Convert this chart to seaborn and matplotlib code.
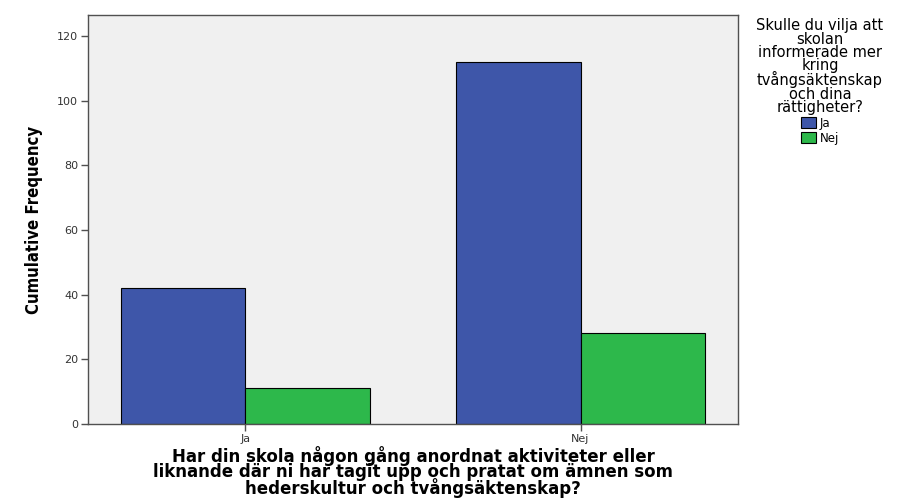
import pandas as pd
import seaborn as sns
import matplotlib.pyplot as plt

# data
activity_answers = ["Ja", "Nej"]          # x axis categories
inform_answers = ["Ja", "Nej"]            # legend / hue
freq_ja = [42, 11]                        # x = Ja: hue Ja, hue Nej
freq_nej = [112, 28]                      # x = Nej: hue Ja, hue Nej

x_title = ("Har din skola någon gång anordnat aktiviteter eller\n"
           "liknande där ni har tagit upp och pratat om ämnen som\n"
           "hederskultur och tvångsäktenskap?")
legend_title = ("Skulle du vilja att\nskolan\ninformerade mer\nkring\n"
                "tvångsäktenskap\noch dina\nrättigheter?")

rows = []
for x_cat, vals in zip(activity_answers, [freq_ja, freq_nej]):
    for h, v in zip(inform_answers, vals):
        rows.append({"activity": x_cat, "inform": h, "freq": v})
df = pd.DataFrame(rows)

sns.set_style("white")
plt.rcParams['font.family'] = ['DejaVu Sans']
plt.rcParams['text.color'] = 'black'
plt.rcParams['axes.labelcolor'] = 'black'

fig = plt.figure(figsize=(9.05, 4.98), dpi=100)
ax = fig.add_axes([88 / 905, 74 / 498, 650 / 905, 409 / 498])
ax.set_facecolor("#f0f0f0")

palette = {"Ja": "#3e56a9", "Nej": "#2db84b"}
sns.barplot(data=df, x="activity", y="freq", hue="inform", order=activity_answers,
            hue_order=inform_answers, palette=palette, width=0.744, gap=0,
            edgecolor="black", linewidth=0.8, saturation=1, ax=ax)

ax.set_xlim(-0.47, 1.47)
ax.set_ylim(0, 126.5)
ax.set_yticks(range(0, 121, 20))

for s in ax.spines.values():
    s.set_color("#505050")
    s.set_linewidth(1.0)

ax.tick_params(axis="both", direction="out", length=5, width=1, color="#505050",
               labelsize=8, labelcolor="#333333", left=True, bottom=True, pad=2)

ax.set_ylabel("Cumulative Frequency",
              family=['Liberation Sans Narrow', 'DejaVu Sans'], fontstretch="condensed",
              fontweight="bold", fontsize=12, labelpad=10)
ax.set_xlabel(x_title, fontweight="bold", fontsize=12, linespacing=0.78, labelpad=2)

ax.legend(title=legend_title, loc="upper center", bbox_to_anchor=(820 / 905, 0.975),
          bbox_transform=fig.transFigure, frameon=False, fontsize=8.5,
          title_fontsize=10.5, handlelength=1.3, handleheight=1.0,
          handletextpad=0.3, labelspacing=0.15, borderpad=0)
leg = ax.get_legend()
leg.get_title().set_linespacing(0.86)
leg.get_title().set_multialignment("center")
for p in leg.get_patches():
    p.set_edgecolor("black")
    p.set_linewidth(0.8)

fig.savefig("out.png", dpi=100)
